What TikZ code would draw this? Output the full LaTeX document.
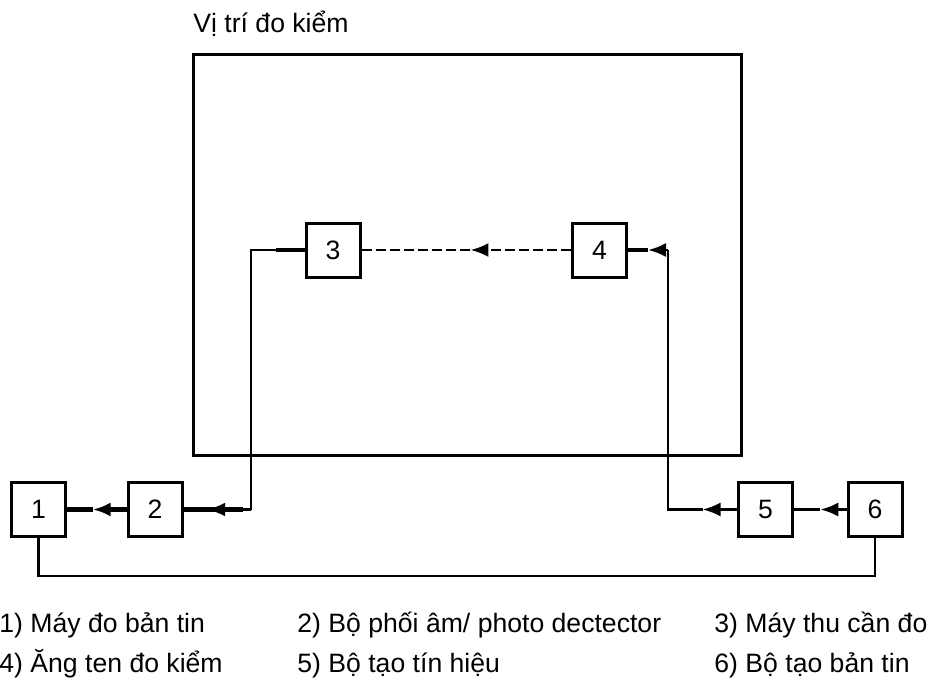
\documentclass[tikz,border=0pt]{standalone}
\usepackage{fontspec}
\setmainfont{Liberation Sans}
\usepackage{tikz}
\usetikzlibrary{arrows.meta,positioning,calc}

\tikzset{
  blk/.style={draw, line width=1.5pt, minimum size=27pt, inner sep=0pt},
  link/.style={line width=1.3pt},
  stub/.style={line width=2.3pt},
  arr/.style={-{Latex[length=9pt,width=7pt]}},
  legend/.style={anchor=base west, inner sep=0pt}
}

\begin{document}
\begin{tikzpicture}[x=0.5pt, y=-0.5pt, font=\fontsize{13.3}{16}\selectfont]
  \useasboundingbox (0,0) rectangle (930,684);
  % measuring site
  \node[legend] (site) at (193,33) {Vị trí đo kiểm};
  \draw[line width=1.5pt] (193,55) rectangle (741,455);
  % blocks
  \node[blk] (n1) at (38.5,509.5) {1};
  \node[blk] (n2) at (155,509.5) {2};
  \node[blk] (n3) at (333,250) {3};
  \node[blk] (n4) at (599.5,250) {4};
  \node[blk] (n5) at (765.5,509.5) {5};
  \node[blk] (n6) at (875,509.5) {6};
  \coordinate (c2) at (251,509.5);
  \coordinate (c3) at (251,250);
  \coordinate (c4) at (668,250);
  \coordinate (c5) at (668,509.5);
  \coordinate (bl) at (38.5,576);
  % connectors, arrow tip half way
  \draw[link, arr] (n6.west) -- ($(n6.west)!0.5!(n5.east)$);
  \draw[link] ($(n6.west)!0.5!(n5.east)$) -- (n5.east);
  \draw[link, arr] (n5.west) -- ($(n5.west)!0.5!(c5)$);
  \draw[link] ($(n5.west)!0.5!(c5)$) -- (c5) -- (c4);
  \draw[link, arr] (c4) -- ($(c4)!0.5!(n4.east)$);
  \draw[stub] ($(c4)!0.5!(n4.east)$) -- (n4.east);
  \draw[link, dash pattern=on 5pt off 2pt, arr] (n4.west) -- ($(n4.west)!0.48!(n3.east)$);
  \draw[link, dash pattern=on 5pt off 2pt] ($(n4.west)!0.48!(n3.east)$) -- (n3.east);
  \draw[link] (n3) -- (c3) -- (c2);
  \draw[stub] (n3.west) -- ++(-29,0);
  \draw[link, arr] (c2) -- ($(c2)!0.65!(n2.east)$);
  \draw[stub] ($(c2)!0.12!(n2.east)$) -- (n2.east);
  \draw[stub, arr] (n2.west) -- ($(n2.west)!0.57!(n1.east)$);
  \draw[stub] ($(n2.west)!0.57!(n1.east)$) -- (n1.east);
  \draw[link] (n1) -- (bl) -| (n6);
  % legend
  \node[legend] (l1) at (-1,632) {1) Máy đo bản tin};
  \node[legend] (l2) at (297,632) {2) Bộ phối âm/ photo dectector};
  \node[legend] (l3) at (714,632) {3) Máy thu cần đo};
  \node[legend] (l4) at (-1,672) {4) Ăng ten đo kiểm};
  \node[legend] (l5) at (297,672) {5) Bộ tạo tín hiệu};
  \node[legend] (l6) at (714,672) {6) Bộ tạo bản tin};
\end{tikzpicture}
\end{document}
